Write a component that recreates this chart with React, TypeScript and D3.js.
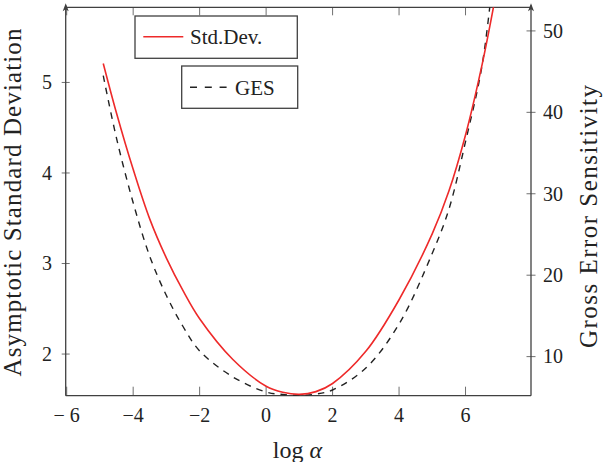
import React, { useEffect, useRef } from "react";
import * as d3 from "d3";

// values
const logAlpha = [-4.9, -4.5, -4, -3.5, -3, -2.5, -2, -1, 0, 0.5, 1, 1.5, 2, 3, 4, 5, 5.5, 6, 6.5, 6.85];
const stdDev = [5.21, 4.66, 4.04, 3.49, 3.06, 2.7, 2.39, 1.94, 1.645, 1.578, 1.555, 1.585, 1.675, 2.03, 2.6, 3.33, 3.8, 4.42, 5.2, 5.85];
const ges = [44.5, 36.8, 28.9, 22.3, 17.5, 13.7, 10.7, 7.5, 5.65, 5.35, 5.25, 5.4, 5.9, 8.6, 14.0, 22.7, 28.1, 36.4, 45.8, 57.5];

const xTicks = [-6, -4, -2, 0, 2, 4, 6];
const xTickLabels = ["\u2212 6", "\u22124", "\u22122", "0", "2", "4", "6"];
const leftTicks = [2, 3, 4, 5];
const rightTicks = [10, 20, 30, 40, 50];

const WIDTH = 605;
const HEIGHT = 462;
const FONT = "'Liberation Serif', 'Times New Roman', serif";

type Pt = { a: number; s: number; g: number };

export default function App() {
  const ref = useRef<SVGSVGElement>(null);

  useEffect(() => {
    const svg = d3.select(ref.current!);
    svg.selectAll("*").remove();

    const left = 65.7;
    const right = 531;
    const top = 7.3;
    const bottom = 395.7;

    const x = d3.scaleLinear().domain([-6.03, 7.97]).range([left, right]);
    const yL = d3.scaleLinear().domain([1.54, 5.83]).range([bottom, top]);
    const yR = d3.scaleLinear().domain([5.2, 52.9]).range([bottom, top]);

    svg
      .append("defs")
      .append("clipPath")
      .attr("id", "plot-clip")
      .append("rect")
      .attr("x", left)
      .attr("y", top)
      .attr("width", right - left)
      .attr("height", bottom - top);

    const axisColor = "#404040";
    const tickColor = "#707070";

    // ticks
    const g = svg.append("g");
    g.selectAll(".xtick-b")
      .data(xTicks)
      .join("line")
      .attr("x1", (d) => x(d))
      .attr("x2", (d) => x(d))
      .attr("y1", bottom)
      .attr("y2", bottom - 9)
      .attr("stroke", tickColor)
      .attr("stroke-width", 1);
    g.selectAll(".xtick-t")
      .data(xTicks)
      .join("line")
      .attr("x1", (d) => x(d))
      .attr("x2", (d) => x(d))
      .attr("y1", top)
      .attr("y2", top + 8)
      .attr("stroke", tickColor)
      .attr("stroke-width", 1);
    svg
      .append("g")
      .selectAll("line")
      .data(leftTicks)
      .join("line")
      .attr("x1", left - 4)
      .attr("x2", left + 4)
      .attr("y1", (d) => yL(d))
      .attr("y2", (d) => yL(d))
      .attr("stroke", tickColor)
      .attr("stroke-width", 1);
    svg
      .append("g")
      .selectAll("line")
      .data(rightTicks)
      .join("line")
      .attr("x1", right - 4.5)
      .attr("x2", right + 4.5)
      .attr("y1", (d) => yR(d))
      .attr("y2", (d) => yR(d))
      .attr("stroke", tickColor)
      .attr("stroke-width", 1);

    // frame
    const frame = svg.append("g").attr("stroke", axisColor).attr("stroke-width", 1.3).attr("fill", "none");
    frame.append("line").attr("x1", left).attr("x2", right).attr("y1", bottom).attr("y2", bottom);
    frame.append("line").attr("x1", left).attr("x2", right).attr("y1", top).attr("y2", top);
    frame.append("line").attr("x1", left).attr("x2", left).attr("y1", bottom).attr("y2", top - 2);
    frame.append("line").attr("x1", right).attr("x2", right).attr("y1", bottom).attr("y2", top - 2);
    [left, right].forEach((ax) => {
      svg
        .append("path")
        .attr("d", `M${ax},${top - 4} L${ax - 3},${top + 4} L${ax},${top + 2} L${ax + 3},${top + 4} Z`)
        .attr("fill", axisColor);
    });

    // tick labels
    svg
      .append("g")
      .selectAll("text")
      .data(xTicks)
      .join("text")
      .attr("x", (d) => x(d))
      .attr("y", 421.5)
      .attr("text-anchor", "middle")
      .attr("font-family", FONT)
      .attr("font-size", 20)
      .attr("fill", "#222")
      .text((d, i) => xTickLabels[i]);
    svg
      .append("g")
      .selectAll("text")
      .data(leftTicks)
      .join("text")
      .attr("x", 52)
      .attr("y", (d) => yL(d) + 6.8)
      .attr("text-anchor", "end")
      .attr("font-family", FONT)
      .attr("font-size", 20)
      .attr("fill", "#222")
      .text((d) => d);
    svg
      .append("g")
      .selectAll("text")
      .data(rightTicks)
      .join("text")
      .attr("x", 543)
      .attr("y", (d) => yR(d) + 6.8)
      .attr("text-anchor", "start")
      .attr("font-family", FONT)
      .attr("font-size", 20)
      .attr("fill", "#222")
      .text((d) => d);

    // curves
    const pts: Pt[] = logAlpha.map((a, i) => ({ a, s: stdDev[i], g: ges[i] }));
    const plot = svg.append("g").attr("clip-path", "url(#plot-clip)");
    plot
      .append("path")
      .datum(pts)
      .attr("fill", "none")
      .attr("stroke", "#222")
      .attr("stroke-width", 1.4)
      .attr("stroke-dasharray", "6.5,6")
      .attr(
        "d",
        d3
          .line<Pt>()
          .x((d) => x(d.a))
          .y((d) => yR(d.g))
          .curve(d3.curveCatmullRom)
      );
    plot
      .append("path")
      .datum(pts)
      .attr("fill", "none")
      .attr("stroke", "#ee2a2a")
      .attr("stroke-width", 1.6)
      .attr(
        "d",
        d3
          .line<Pt>()
          .x((d) => x(d.a))
          .y((d) => yL(d.s))
          .curve(d3.curveCatmullRom)
      );

    // legends
    const leg1 = svg.append("g");
    leg1
      .append("rect")
      .attr("x", 135)
      .attr("y", 16)
      .attr("width", 162.3)
      .attr("height", 42.3)
      .attr("fill", "white")
      .attr("stroke", axisColor)
      .attr("stroke-width", 1.3);
    leg1
      .append("line")
      .attr("x1", 143.3)
      .attr("x2", 183.3)
      .attr("y1", 36.7)
      .attr("y2", 36.7)
      .attr("stroke", "#ee2a2a")
      .attr("stroke-width", 1.6);
    leg1
      .append("text")
      .attr("x", 190)
      .attr("y", 43.5)
      .attr("font-family", FONT)
      .attr("font-size", 21)
      .attr("fill", "#222")
      .text("Std.Dev.");

    const leg2 = svg.append("g");
    leg2
      .append("rect")
      .attr("x", 181.7)
      .attr("y", 66)
      .attr("width", 116)
      .attr("height", 42.3)
      .attr("fill", "white")
      .attr("stroke", axisColor)
      .attr("stroke-width", 1.3);
    leg2
      .append("line")
      .attr("x1", 190)
      .attr("x2", 226.7)
      .attr("y1", 87.3)
      .attr("y2", 87.3)
      .attr("stroke", "#222")
      .attr("stroke-width", 1.4)
      .attr("stroke-dasharray", "7,7.8");
    leg2
      .append("text")
      .attr("x", 235)
      .attr("y", 95)
      .attr("font-family", FONT)
      .attr("font-size", 21)
      .attr("fill", "#222")
      .text("GES");

    // axis labels
    svg
      .append("text")
      .attr("transform", "translate(21,202.5) rotate(-90)")
      .attr("text-anchor", "middle")
      .attr("font-family", FONT)
      .attr("font-size", 25)
      .attr("fill", "#222")
      .attr("textLength", 348)
      .text("Asymptotic Standard Deviation");
    svg
      .append("text")
      .attr("transform", "translate(597,216.5) rotate(-90)")
      .attr("text-anchor", "middle")
      .attr("font-family", FONT)
      .attr("font-size", 25)
      .attr("fill", "#222")
      .attr("textLength", 263)
      .text("Gross Error Sensitivity");
    const xl = svg
      .append("text")
      .attr("x", 297.5)
      .attr("y", 458)
      .attr("text-anchor", "middle")
      .attr("font-family", FONT)
      .attr("font-size", 24)
      .attr("fill", "#222");
    xl.append("tspan").text("log ");
    xl.append("tspan").attr("font-style", "italic").text("\u03b1");
  }, []);

  return (
    <svg
      ref={ref}
      width={WIDTH}
      height={HEIGHT}
      style={{ position: "absolute", left: 0, top: 0, background: "white" }}
    />
  );
}
